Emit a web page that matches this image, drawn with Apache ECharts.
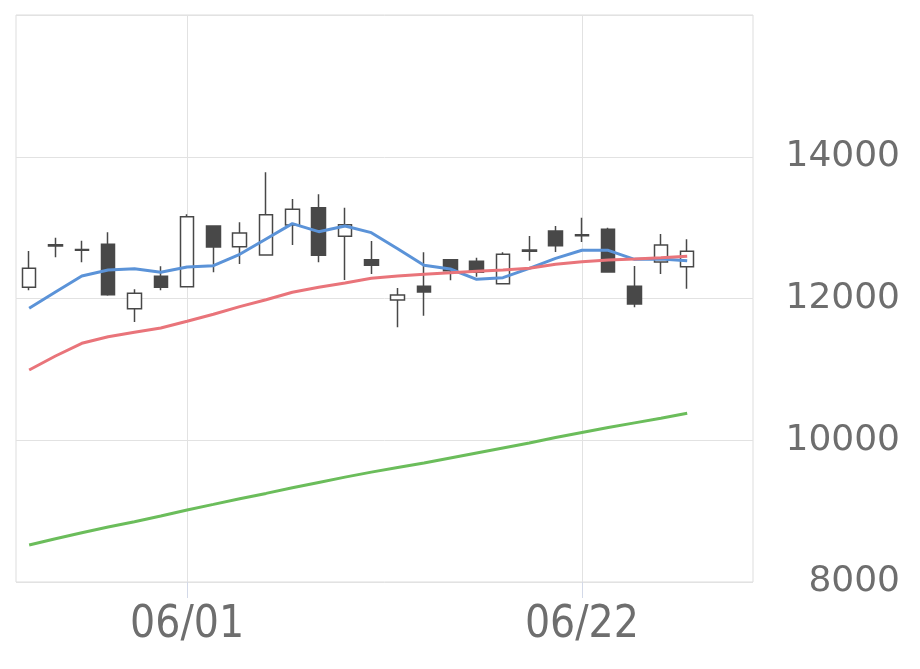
<!DOCTYPE html>
<html lang="ja">
<head>
  <meta charset="UTF-8">
  <title>chart</title>
  <style>
    html, body { margin: 0; padding: 0; background: #fff; }
    #main { width: 920px; height: 669px; }
  </style>
</head>
<body>
  <div id="main"></div>
  <script src="https://cdn.jsdelivr.net/npm/echarts@6/dist/echarts.min.js"></script>
  <script>
    // trading days (2021/05/24 - 2021/06/30)
    let dates = ['05/24', '05/25', '05/26', '05/27', '05/28', '05/31', '06/01', '06/02', '06/03', '06/04',
      '06/07', '06/08', '06/09', '06/10', '06/11', '06/14', '06/15', '06/16', '06/17', '06/18',
      '06/21', '06/22', '06/23', '06/24', '06/25', '06/28', '06/29', '06/30']
    let shownDates = ['06/01', '06/22']

    // [open, close, low, high]
    let ohlc = [
      [12158, 12426, 12116, 12670],
      [12760, 12740, 12581, 12858],
      [12690, 12680, 12511, 12816],
      [12765, 12054, 12040, 12934],
      [11856, 12074, 11669, 12130],
      [12313, 12158, 12116, 12455],
      [12167, 13154, 12160, 13188],
      [13023, 12727, 12370, 13030],
      [12731, 12924, 12487, 13075],
      [12614, 13183, 12614, 13781],
      [13037, 13259, 12755, 13404],
      [13281, 12610, 12511, 13470],
      [12878, 13041, 12261, 13281],
      [12548, 12469, 12346, 12811],
      [11979, 12050, 11594, 12148],
      [12172, 12092, 11758, 12652],
      [12548, 12393, 12257, 12555],
      [12525, 12370, 12308, 12576],
      [12209, 12624, 12209, 12652],
      [12685, 12665, 12534, 12882],
      [12953, 12745, 12656, 13023],
      [12900, 12885, 12797, 13140],
      [12977, 12374, 12374, 12999],
      [12172, 11923, 11876, 12459],
      [12515, 12755, 12346, 12910],
      [12449, 12666, 12138, 12835]
    ]
    let ma5 = [11862, 12092, 12318, 12402, 12421, 12370, 12445, 12463, 12624, 12840,
      13056, 12943, 13023, 12929, 12703, 12469, 12416, 12271, 12294, 12426,
      12567, 12680, 12680, 12553, 12558, 12534]
    let ma25 = [10991, 11189, 11368, 11461, 11523, 11584, 11678, 11777, 11885, 11983,
      12088, 12158, 12219, 12285, 12318, 12342, 12362, 12384, 12402, 12426,
      12483, 12520, 12543, 12558, 12576, 12596]
    let ma75 = [8522, 8611, 8696, 8776, 8851, 8931, 9016, 9095, 9175, 9250,
      9330, 9405, 9480, 9550, 9615, 9680, 9750, 9820, 9890, 9960,
      10040, 10110, 10180, 10245, 10310, 10380]

    let chart = echarts.init(document.getElementById('main'))
    let showDate = (idx, val) => shownDates.indexOf(val) >= 0
    let candleColor = '#484848'
    let lineSeries = (data, color) => {
      return {
        type: 'line',
        data: data,
        symbol: 'none',
        lineStyle: { color: color, width: 3 },
        itemStyle: { color: color }
      }
    }

    chart.setOption({
      animation: false,
      grid: {
        left: 16, right: 167, top: 15, bottom: 87,
        show: true, borderColor: '#dddddd', borderWidth: 1
      },
      xAxis: {
        type: 'category',
        data: dates,
        boundaryGap: true,
        axisLine: { show: false },
        axisTick: {
          show: true, interval: showDate, alignWithLabel: true, length: 16,
          lineStyle: { color: '#d3d9e8' }
        },
        axisLabel: {
          interval: showDate, margin: 22,
          fontFamily: 'DejaVu Sans Condensed', fontSize: 44, color: '#6e6e6e'
        },
        splitLine: {
          show: true, interval: showDate, alignWithLabel: true,
          lineStyle: { color: '#e2e2e2' }
        }
      },
      yAxis: {
        type: 'value',
        position: 'right',
        min: 8000, max: 16000, interval: 2000,
        axisLine: { show: false },
        axisTick: { show: false },
        axisLabel: {
          showMaxLabel: false, align: 'right', margin: 147,
          formatter: v => String(v),
          fontFamily: 'DejaVu Sans', fontSize: 36, color: '#6e6e6e'
        },
        splitLine: { lineStyle: { color: '#e2e2e2' } }
      },
      series: [
        {
          type: 'candlestick',
          data: ohlc,
          barWidth: 14,
          itemStyle: {
            color: '#ffffff', color0: candleColor,
            borderColor: candleColor, borderColor0: candleColor, borderWidth: 1.5
          }
        },
        lineSeries(ma5, '#5b93d8'),
        lineSeries(ma25, '#e9747a'),
        lineSeries(ma75, '#6bbd5b')
      ]
    })
  </script>
</body>
</html>
